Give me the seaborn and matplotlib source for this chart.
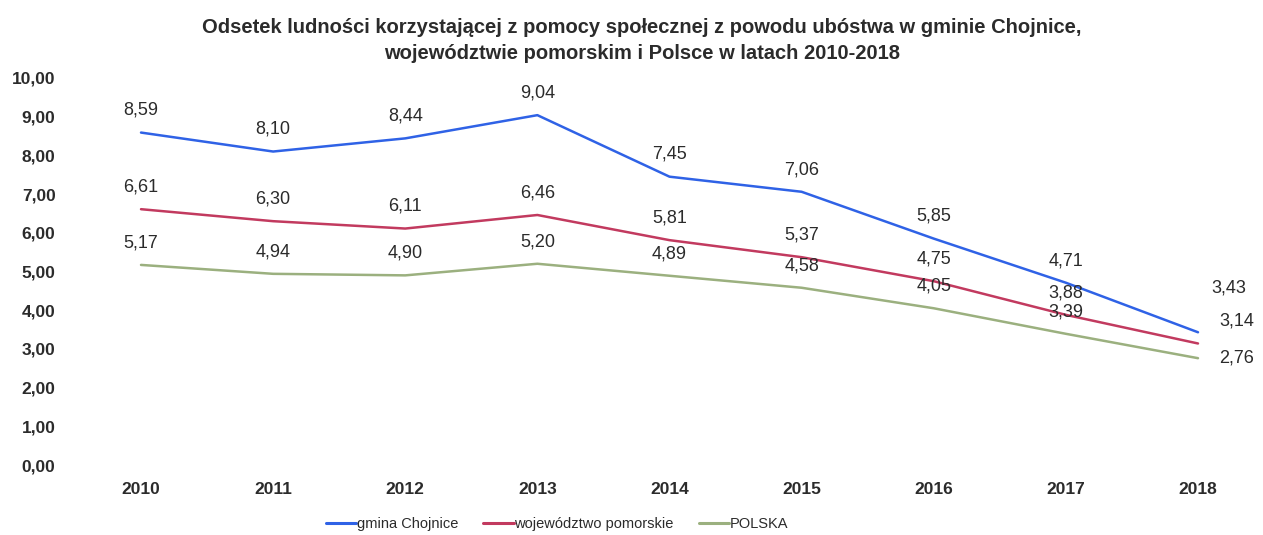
import pandas as pd
import matplotlib.pyplot as plt
import seaborn as sns

years = [2010, 2011, 2012, 2013, 2014, 2015, 2016, 2017, 2018]
chojnice = [8.59, 8.10, 8.44, 9.04, 7.45, 7.06, 5.85, 4.71, 3.43]
pomorskie = [6.61, 6.30, 6.11, 6.46, 5.81, 5.37, 4.75, 3.88, 3.14]
polska = [5.17, 4.94, 4.90, 5.20, 4.89, 4.58, 4.05, 3.39, 2.76]

series = {
    "gmina Chojnice": chojnice,
    "województwo pomorskie": pomorskie,
    "POLSKA": polska,
}
palette = {
    "gmina Chojnice": "#2f62e6",
    "województwo pomorskie": "#c23a5f",
    "POLSKA": "#9bb07f",
}

rows = []
for name, vals in series.items():
    for y, v in zip(years, vals):
        rows.append({"Rok": y, "Wartosc": v, "Seria": name})
df = pd.DataFrame(rows)

sns.set_style("white")
plt.rcParams["font.family"] = ["Liberation Sans", "DejaVu Sans"]
txt = "#2b2b2b"

fig = plt.figure(figsize=(12.63, 5.35), dpi=100)
ax = fig.add_axes([100 / 1263, 70 / 535, 1140 / 1263, 387 / 535])

sns.lineplot(data=df, x="Rok", y="Wartosc", hue="Seria", palette=palette,
             linewidth=1.8, ax=ax, legend=False)

ax.set_xlim(2010 - 41 / 132.1, 2018 + 42 / 132.1)
ax.set_ylim(0, 10)
ax.set_yticks(range(0, 11))
ax.set_yticklabels([f"{v:.2f}".replace(".", ",") for v in range(0, 11)])
ax.set_xticks(years)
ax.set_xticklabels([str(y) for y in years])
ax.tick_params(axis="y", length=0, pad=32, labelsize=12.5, labelcolor=txt)
ax.tick_params(axis="x", length=0, pad=12, labelsize=12.5, labelcolor=txt)
for lab in ax.get_xticklabels() + ax.get_yticklabels():
    lab.set_fontweight("bold")
ax.set_xlabel("")
ax.set_ylabel("")
sns.despine(ax=ax, left=True, bottom=True)

# data labels; the last year is placed to the right of the line ends
last_offsets = {
    "gmina Chojnice": (22, 32),
    "województwo pomorskie": (28, 16),
    "POLSKA": (28, 0),
}
for name, vals in series.items():
    for y, v in zip(years, vals):
        off = last_offsets[name] if y == years[-1] else (0, 16)
        ax.annotate(f"{v:.2f}".replace(".", ","), (y, v), xytext=off,
                    textcoords="offset points", ha="center", va="center",
                    fontsize=13, color=txt)

fig.text(0.508, 0.924,
         "Odsetek ludności korzystającej z pomocy społecznej z powodu ubóstwa w gminie Chojnice,\n"
         "województwie pomorskim i Polsce w latach 2010-2018",
         ha="center", va="center", fontsize=14.5, fontweight="bold", color=txt,
         linespacing=1.45)

handles = [plt.Line2D([], [], color=palette[n], linewidth=2.2) for n in series]
fig.legend(handles, list(series.keys()), loc="center", bbox_to_anchor=(0.441, 0.021),
           ncol=3, frameon=False, fontsize=10.5, handlelength=2.1, handletextpad=0.05,
           columnspacing=1.7, labelcolor=txt)

fig.savefig("out.png", dpi=100)
